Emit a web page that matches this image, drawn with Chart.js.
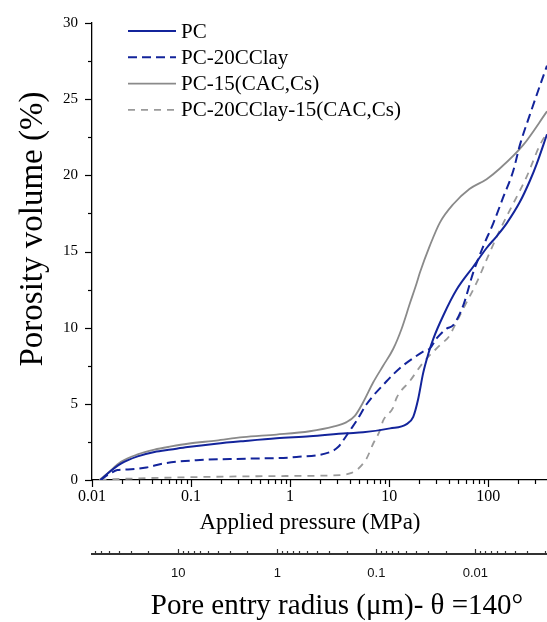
<!DOCTYPE html>
<html>
<head>
<meta charset="utf-8">
<script src="https://cdn.jsdelivr.net/npm/chart.js@4.4.1/dist/chart.umd.min.js"></script>
<style>
  html, body { margin: 0; padding: 0; background: #fff; }
</style>
</head>
<body>
<canvas id="chart" width="547" height="622"></canvas>
<script>
// MIP curves: applied pressure (MPa) -> porosity volume (%)
const pcPressure = [0.0123, 0.0144, 0.0196, 0.0289, 0.0427, 0.0628, 0.0926, 0.179, 0.335, 0.729, 1.58, 3.72, 5.46, 10.2, 15.0, 17.5, 19.6, 22.0, 24.9, 28.0, 35.2, 48.0, 70.5, 96.3, 121.6, 153.5, 209, 264, 308, 392];
const pcVolume = [0, 0.43, 1.08, 1.55, 1.84, 2.0, 2.16, 2.38, 2.55, 2.74, 2.87, 3.07, 3.13, 3.39, 3.67, 4.15, 5.3, 7.0, 8.3, 9.3, 10.8, 12.5, 14.0, 15.23, 16.0, 16.85, 18.26, 19.66, 20.74, 22.7];

const clayPressure = [0.0121, 0.0155, 0.018, 0.0231, 0.0354, 0.0521, 0.1134, 0.363, 1.161, 2.52, 3.05, 3.43, 4.01, 4.69, 5.91, 9.41, 12.8, 17.5, 22.0, 25.8, 30.1, 38.0, 44.3, 55.9, 70.5, 89.0, 112.4, 142, 179, 209, 264, 333, 392];
const clayVolume = [0, 0.45, 0.65, 0.69, 0.82, 1.08, 1.3, 1.4, 1.51, 1.83, 2.16, 2.59, 3.24, 3.89, 4.97, 6.48, 7.34, 8.0, 8.43, 8.64, 9.29, 9.94, 10.16, 11.45, 13.61, 15.34, 16.85, 18.58, 20.3, 22.0, 24.0, 25.9, 27.2];

const cacPressure = [0.0119, 0.0144, 0.0196, 0.0289, 0.0427, 0.0628, 0.0926, 0.179, 0.335, 0.729, 1.58, 2.72, 3.72, 4.5, 5.46, 6.89, 8.69, 10.97, 13.3, 16.2, 18.9, 20.4, 25.8, 32.5, 44.3, 64.6, 96.3, 131, 226, 392];
const cacVolume = [0, 0.45, 1.19, 1.68, 1.99, 2.2, 2.38, 2.59, 2.81, 2.98, 3.2, 3.5, 3.8, 4.21, 5.1, 6.4, 7.5, 8.6, 9.9, 11.6, 12.9, 13.6, 15.4, 16.9, 18.1, 19.1, 19.75, 20.45, 22.0, 24.2];

const clayCacPressure = [0.0119, 0.0163, 0.0769, 0.787, 3.18, 4.01, 4.69, 5.46, 5.91, 6.89, 8.05, 8.69, 10.97, 11.9, 16.2, 22.0, 32.5, 41.0, 44.3, 55.9, 76.4, 96.3, 131.3, 179, 244, 333, 392];
const clayCacVolume = [0, 0.05, 0.17, 0.26, 0.32, 0.43, 0.65, 1.08, 1.4, 2.38, 3.24, 3.89, 4.75, 5.4, 6.5, 7.7, 8.85, 9.5, 9.94, 11.23, 12.96, 14.47, 16.42, 18.15, 19.9, 22.0, 22.8];

const seriesNames = ['PC', 'PC-20CClay', 'PC-15(CAC,Cs)', 'PC-20CClay-15(CAC,Cs)'];

// tick labels
const pressureLabels = [0.01, 0.1, 1, 10, 100];
const radiusLabels = [10, 1, 0.1, 0.01];
const pressureMin = 0.01;
const pressureMax = 392;
const washburn = 0.7427; // r (um) * P (MPa), theta = 140 deg

const toPoints = (xs, ys) => xs.map((x, i) => ({ x, y: ys[i] }));

const BLUE = '#13249b';
const GRAY = '#8a8a8a';
const GRAY_DASH = '#9a9a9a';
const SERIF = '"Liberation Serif", "Times New Roman", serif';
const SANS = '"Liberation Sans", Arial, sans-serif';

function labelFor(list) {
  return (v) => {
    const hit = list.find((t) => Math.abs(Math.log10(v) - Math.log10(t)) < 1e-6);
    return hit === undefined ? '' : String(hit);
  };
}

function logTicks(min, max) {
  const out = [];
  for (let e = Math.floor(Math.log10(min)); e <= Math.ceil(Math.log10(max)); e++) {
    for (let m = 1; m <= 9; m++) {
      const v = m * Math.pow(10, e);
      if (v >= min * 0.999999 && v <= max * 1.000001) out.push({ v, major: m === 1 });
    }
  }
  return out;
}

// horizontal scales: no side padding so the plot runs to the right edge
const fitX = (h) => (s) => {
  s.height = h;
  s.paddingLeft = 0;
  s.paddingRight = 0;
};

// tick marks, axis titles and the legend
const decor = {
  id: 'decor',
  afterDraw(chart) {
    const { ctx, chartArea, scales } = chart;
    const seg = (x1, y1, x2, y2) => {
      ctx.beginPath();
      ctx.moveTo(x1, y1);
      ctx.lineTo(x2, y2);
      ctx.stroke();
    };
    ctx.save();
    ctx.strokeStyle = '#000';
    ctx.lineWidth = 1.2;

    // pressure axis, ticks down
    logTicks(pressureMin, pressureMax).forEach((t) => {
      const px = Math.round(scales.x.getPixelForValue(t.v)) + 0.5;
      seg(px, chartArea.bottom, px, chartArea.bottom + (t.major ? 7 : 4));
    });

    // volume axis, ticks left
    for (let v = 0; v <= 30; v += 2.5) {
      const py = Math.round(scales.y.getPixelForValue(v)) + 0.5;
      seg(chartArea.left, py, chartArea.left - (v % 5 === 0 ? 7 : 4), py);
    }

    // radius axis, ticks up
    ctx.strokeStyle = '#333';
    const top2 = scales.x2.top;
    logTicks(washburn / pressureMax, washburn / pressureMin).forEach((t) => {
      const px = Math.round(scales.x2.getPixelForValue(t.v)) + 0.5;
      seg(px, top2, px, top2 - (t.major ? 5 : 3));
    });

    // titles
    ctx.fillStyle = '#000';
    ctx.textAlign = 'center';
    ctx.textBaseline = 'middle';
    ctx.font = '23px ' + SERIF;
    ctx.fillText('Applied pressure (MPa)', 310, 523);
    ctx.font = '29px ' + SERIF;
    ctx.fillText('Pore entry radius (\u03bcm)- \u03b8 =140\u00b0', 337, 606);
    ctx.save();
    ctx.translate(33, 229);
    ctx.rotate(-Math.PI / 2);
    ctx.font = '33px ' + SERIF;
    ctx.fillText('Porosity volume (%)', 0, 0);
    ctx.restore();

    // legend
    ctx.textAlign = 'left';
    ctx.font = '21px ' + SERIF;
    chart.data.datasets.forEach((ds, i) => {
      const y = 31 + i * 26.3;
      ctx.strokeStyle = ds.borderColor;
      ctx.lineWidth = ds.borderWidth;
      ctx.setLineDash(ds.borderDash || []);
      seg(128, y, 176, y);
      ctx.setLineDash([]);
      ctx.fillText(ds.label, 181, y + 1);
    });
    ctx.restore();
  },
};

new Chart(document.getElementById('chart'), {
  type: 'line',
  data: {
    datasets: [
      { label: seriesNames[0], data: toPoints(pcPressure, pcVolume), borderColor: BLUE, borderWidth: 2 },
      { label: seriesNames[1], data: toPoints(clayPressure, clayVolume), borderColor: BLUE, borderWidth: 2, borderDash: [9, 5] },
      { label: seriesNames[2], data: toPoints(cacPressure, cacVolume), borderColor: GRAY, borderWidth: 1.8 },
      { label: seriesNames[3], data: toPoints(clayCacPressure, clayCacVolume), borderColor: GRAY_DASH, borderWidth: 1.8, borderDash: [7, 6] },
    ],
  },
  options: {
    responsive: false,
    animation: false,
    layout: { padding: { top: 17, right: 0, bottom: 0, left: 0 } },
    elements: {
      point: { radius: 0 },
      line: { cubicInterpolationMode: 'monotone', fill: false },
    },
    plugins: { legend: { display: false }, tooltip: { enabled: false } },
    scales: {
      x: {
        type: 'logarithmic',
        position: 'bottom',
        min: pressureMin,
        max: pressureMax,
        grid: { display: false, drawTicks: false },
        border: { display: true, color: '#000', width: 1.3 },
        ticks: {
          autoSkip: false,
          maxRotation: 0,
          padding: 7,
          color: '#000',
          font: { family: SERIF, size: 16 },
          callback: labelFor(pressureLabels),
        },
        afterFit: fitX(74),
      },
      x2: {
        type: 'logarithmic',
        position: 'bottom',
        reverse: true,
        min: washburn / pressureMax,
        max: washburn / pressureMin,
        grid: { display: false, drawTicks: false },
        border: { display: true, color: '#333', width: 2 },
        ticks: {
          autoSkip: false,
          maxRotation: 0,
          padding: 12,
          color: '#111',
          font: { family: SANS, size: 13 },
          callback: labelFor(radiusLabels),
        },
        afterFit: fitX(68),
      },
      y: {
        min: 0,
        max: 30,
        grid: { display: false, drawTicks: false },
        border: { display: true, color: '#000', width: 1.3 },
        ticks: {
          stepSize: 5,
          padding: 14,
          color: '#000',
          font: { family: SERIF, size: 15 },
        },
        afterFit: (s) => { s.width = 92; },
      },
    },
  },
  plugins: [decor],
});
</script>
</body>
</html>
